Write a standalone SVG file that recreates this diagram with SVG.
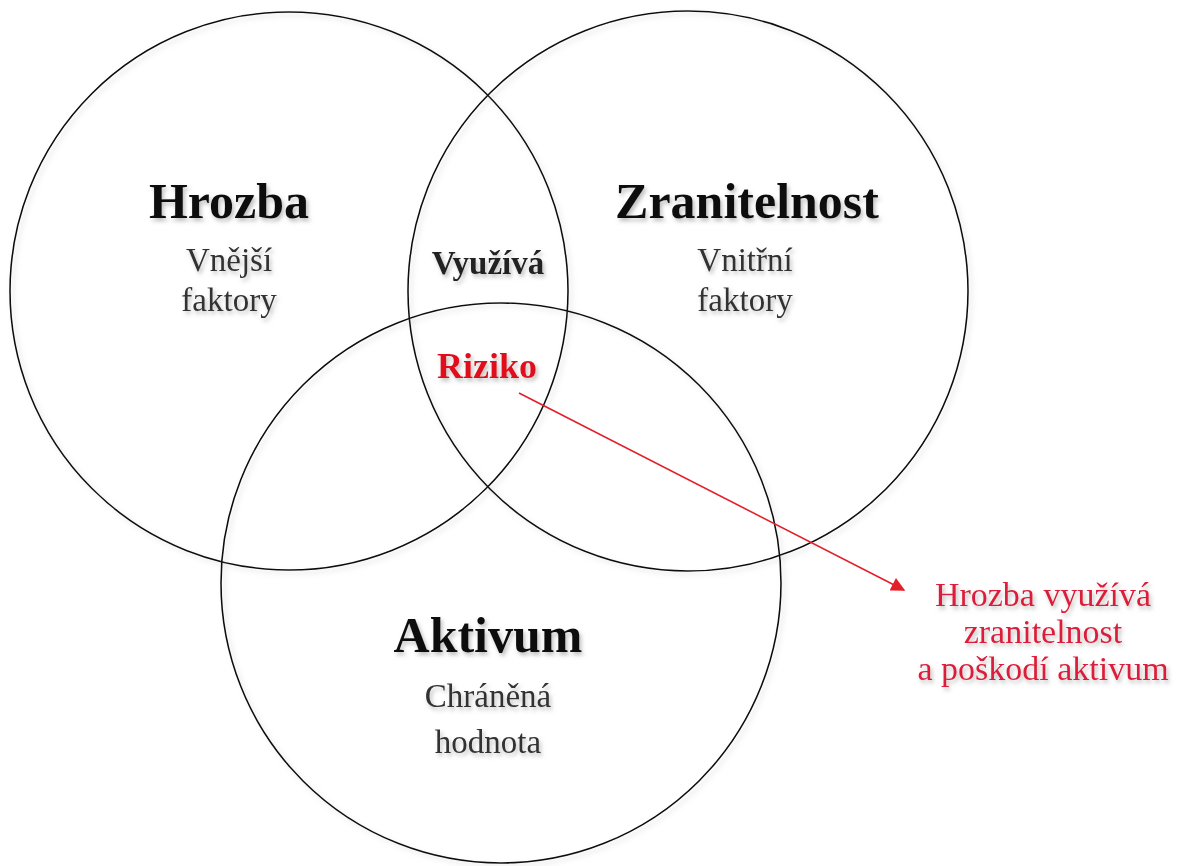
<svg xmlns="http://www.w3.org/2000/svg" width="1189" height="866" viewBox="0 0 1189 866">
  <style>
    .circle { fill: none; stroke: #111; stroke-width: 1.6; }
    .title { font-family: "Liberation Serif", "Times New Roman", serif; font-weight: bold; font-size: 50px; fill: #111; text-anchor: middle; }
    .sub { font-family: "Liberation Serif", "Times New Roman", serif; font-size: 33px; fill: #333; text-anchor: middle; }
    .mid { font-family: "Liberation Serif", "Times New Roman", serif; font-weight: bold; font-size: 33px; fill: #222; text-anchor: middle; }
    .risk { font-family: "Liberation Serif", "Times New Roman", serif; font-weight: bold; font-size: 36px; fill: #e0101a; text-anchor: middle; }
    .note { font-family: "Liberation Serif", "Times New Roman", serif; font-size: 34px; fill: #dc1e3c; text-anchor: middle; }
    .arrow { stroke: #e3202a; stroke-width: 1.6; fill: none; }
  </style>
  <defs>
    <filter id="ts" x="-10%" y="-30%" width="130%" height="180%">
      <feDropShadow dx="2" dy="3" stdDeviation="2" flood-color="#888" flood-opacity="0.55"/>
    </filter>
    <filter id="cs" x="-5%" y="-5%" width="115%" height="115%">
      <feDropShadow dx="3" dy="3" stdDeviation="2.5" flood-color="#999" flood-opacity="0.35"/>
    </filter>
    <marker id="ah" viewBox="0 0 10 10" refX="9" refY="5" markerWidth="16" markerHeight="14" markerUnits="userSpaceOnUse" orient="auto">
      <path d="M0,0 L10,5 L0,10 z" fill="#e3202a"/>
    </marker>
  </defs>
  <rect x="0" y="0" width="1189" height="866" fill="#fff"/>

  <g id="hrozba">
    <circle class="circle" cx="289" cy="291" r="279" filter="url(#cs)"/>
    <g filter="url(#ts)">
      <text class="title" x="229" y="218">Hrozba</text>
      <text class="sub" x="229" y="271">Vnější</text>
      <text class="sub" x="229" y="311">faktory</text>
    </g>
  </g>

  <g id="zranitelnost">
    <circle class="circle" cx="688" cy="291" r="280" filter="url(#cs)"/>
    <g filter="url(#ts)">
      <text class="title" x="747" y="218">Zranitelnost</text>
      <text class="sub" x="745" y="271">Vnitřní</text>
      <text class="sub" x="745" y="311">faktory</text>
    </g>
  </g>

  <g id="aktivum">
    <circle class="circle" cx="501" cy="583" r="280" filter="url(#cs)"/>
    <g filter="url(#ts)">
      <text class="title" x="488" y="652">Aktivum</text>
      <text class="sub" x="488" y="707">Chráněná</text>
      <text class="sub" x="488" y="753">hodnota</text>
    </g>
  </g>

  <g id="vyuziva" filter="url(#ts)">
    <text class="mid" x="488" y="274">Využívá</text>
  </g>

  <g id="riziko" filter="url(#ts)">
    <text class="risk" x="487" y="378">Riziko</text>
  </g>

  <g id="connectors">
    <line class="arrow" x1="519" y1="393" x2="904" y2="590" marker-end="url(#ah)"/>
  </g>

  <g id="note" filter="url(#ts)">
    <text class="note" x="1043" y="606">Hrozba využívá</text>
    <text class="note" x="1043" y="643">zranitelnost</text>
    <text class="note" x="1043" y="680">a poškodí aktivum</text>
  </g>
</svg>
